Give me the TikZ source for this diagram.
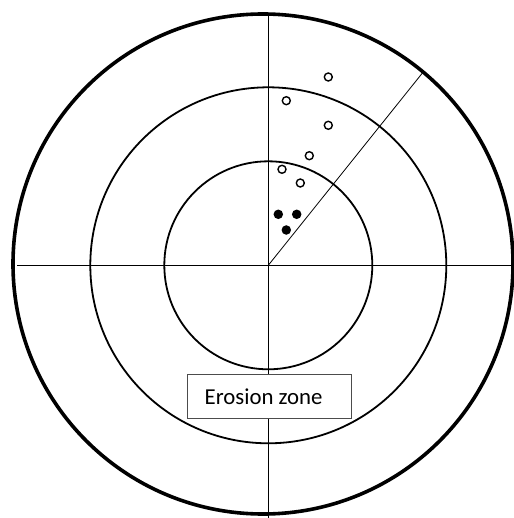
\documentclass[tikz,border=0pt]{standalone}
\usepackage{fontspec}
\setmainfont{Carlito}
\begin{document}
\begin{tikzpicture}[x=1pt,y=-1pt,
  ring/.style={draw=black,line width=1.8pt},
  outerring/.style={draw=black,line width=3.6pt},
  axis/.style={draw=black,line width=0.9pt},
  opendot/.style={circle,draw=black,line width=1.4pt,fill=white,minimum size=8pt,inner sep=0pt},
  filldot/.style={circle,fill=black,minimum size=9.5pt,inner sep=0pt},
  labelbox/.style={draw=black!70,line width=0.8pt,fill=white,minimum width=164pt,minimum height=43.5pt,inner sep=0pt}]
\useasboundingbox (0,0) rectangle (513,518);
\coordinate (c) at (268.3,265.3);
\coordinate (oc) at (263,264);
\coordinate (top) at (268.3,13);
\coordinate (bot) at (268.3,518);
\coordinate (lft) at (17,265.3);
\coordinate (rgt) at (513,265.3);
\coordinate (rim) at (424,71);
% circles
\draw[outerring] (oc) circle[radius=250];
\draw[ring] (c) circle[radius=178];
\draw[ring] (c) circle[radius=104];
% axes
\draw[axis] (top) -- (bot);
\draw[axis] (lft) -- (rgt);
\draw[line width=0.8pt] (c) -- (rim);
% open dots
\node[opendot] (o1) at (328.3,77) {};
\node[opendot] (o2) at (286.3,100.7) {};
\node[opendot] (o3) at (328.3,125.3) {};
\node[opendot] (o4) at (309.3,155.7) {};
\node[opendot] (o5) at (282,169.3) {};
\node[opendot] (o6) at (300.3,183) {};
% filled dots
\node[filldot] (f1) at (278.3,214.3) {};
\node[filldot] (f2) at (296.7,214.3) {};
\node[filldot] (f3) at (286.3,230) {};
% label
\node[labelbox] (box) at (269.5,396.2) {};
\node[anchor=base west,font=\fontsize{22.8}{26}\selectfont,inner sep=0pt] (lbl) at (204.5,404) {Erosion zone};
\end{tikzpicture}
\end{document}
